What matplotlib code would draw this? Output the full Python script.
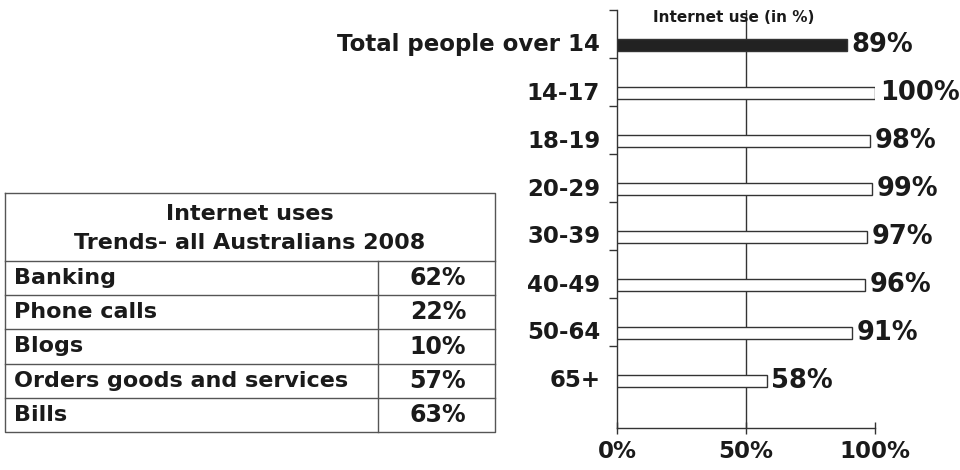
import matplotlib
matplotlib.use("Agg")
import matplotlib.pyplot as plt
from matplotlib.lines import Line2D

categories = ["Total people over 14", "14-17", "18-19", "20-29", "30-39", "40-49", "50-64", "65+"]
values = [89, 100, 98, 99, 97, 96, 91, 58]
x_ticks = [0, 50, 100]
x_tick_labels = ["0%", "50%", "100%"]
chart_title = "Internet use (in %)"

table_title = ["Internet uses", "Trends- all Australians 2008"]
table_items = ["Banking", "Phone calls", "Blogs", "Orders goods and services", "Bills"]
table_values = ["62%", "22%", "10%", "57%", "63%"]

FONT = "DejaVu Sans"
TXT = "#1a1a1a"
W, H = 960, 470
fig = plt.figure(figsize=(W / 100, H / 100), dpi=100)
fig.patch.set_facecolor("white")

def fx(px):
    return px / W

def fy(py):
    return 1 - py / H

# ---- bar chart ----
x0, x1 = 617, 875
y_top, y_bot = 10, 428
ax = fig.add_axes([fx(x0), fy(y_bot), fx(x1) - fx(x0), fy(y_top) - fy(y_bot)])
n = len(categories)
top_off = 35 / 48
ax.set_ylim(n - 1 + 47 / 48, -top_off)
ax.set_xlim(0, 100)
ypos = list(range(n))
colors = ["#222222"] + ["white"] * (n - 1)
ax.barh(ypos, values, height=0.23, color=colors, edgecolor="#333333", linewidth=1.0, zorder=3)
ax.axvline(50, color="#333333", linewidth=1.0, zorder=1)

for y, v in zip(ypos, values):
    ax.text(v + 1.8, y, f"{v}%", va="center", ha="left", fontsize=18.5,
            fontfamily=FONT, fontweight="bold", color=TXT)

ax.set_yticks([i - top_off for i in range(n)])
ax.set_yticklabels([])
ax.tick_params(axis="y", direction="out", length=6, width=1, color="#333333")
for y, c in zip(ypos, categories):
    ax.text(-0.065, y, c, transform=ax.get_yaxis_transform(), ha="right", va="center",
            fontsize=16.5, fontfamily=FONT, fontweight="bold", color=TXT)

ax.set_xticks(x_ticks)
ax.set_xticklabels(x_tick_labels, fontsize=16.5, fontfamily=FONT, fontweight="bold", color=TXT)
ax.tick_params(axis="x", direction="inout", length=8, width=1, color="#333333", pad=5)
for s in ["top", "right"]:
    ax.spines[s].set_visible(False)
for s in ["left", "bottom"]:
    ax.spines[s].set_color("#333333")
    ax.spines[s].set_linewidth(1.0)
ax.text(0.14, 1.0 - 0.017, chart_title, transform=ax.transAxes, ha="left", va="center",
        fontsize=11, fontfamily=FONT, fontweight="bold", color=TXT)
ax.set_facecolor("none")

# ---- table ----
tax = fig.add_axes([0, 0, 1, 1])
tax.set_xlim(0, W)
tax.set_ylim(H, 0)
tax.axis("off")
tx0, tx1, ty0, ty1 = 5, 495, 193, 432
lc = "#555555"
tax.add_line(Line2D([tx0, tx1, tx1, tx0, tx0], [ty0, ty0, ty1, ty1, ty0], color=lc, lw=1.0))
header_bottom = 261
tax.add_line(Line2D([tx0, tx1], [header_bottom, header_bottom], color=lc, lw=1.0))
row_h = (ty1 - header_bottom) / len(table_items)
for k in range(1, len(table_items)):
    yy = header_bottom + k * row_h
    tax.add_line(Line2D([tx0, tx1], [yy, yy], color=lc, lw=1.0))
col_x = 378
tax.add_line(Line2D([col_x, col_x], [header_bottom, ty1], color=lc, lw=1.0))
tax.text((tx0 + tx1) / 2, 214, table_title[0], ha="center", va="center", fontsize=16,
         fontfamily=FONT, fontweight="bold", color=TXT)
tax.text((tx0 + tx1) / 2, 243, table_title[1], ha="center", va="center", fontsize=16,
         fontfamily=FONT, fontweight="bold", color=TXT)
for k, (lab, val) in enumerate(zip(table_items, table_values)):
    yc = header_bottom + (k + 0.5) * row_h
    tax.text(14, yc, lab, ha="left", va="center", fontsize=16, fontfamily=FONT,
             fontweight="bold", color=TXT)
    tax.text(466, yc, val, ha="right", va="center", fontsize=17, fontfamily=FONT,
             fontweight="bold", color=TXT)

fig.savefig("out.png", dpi=100, facecolor="white")
